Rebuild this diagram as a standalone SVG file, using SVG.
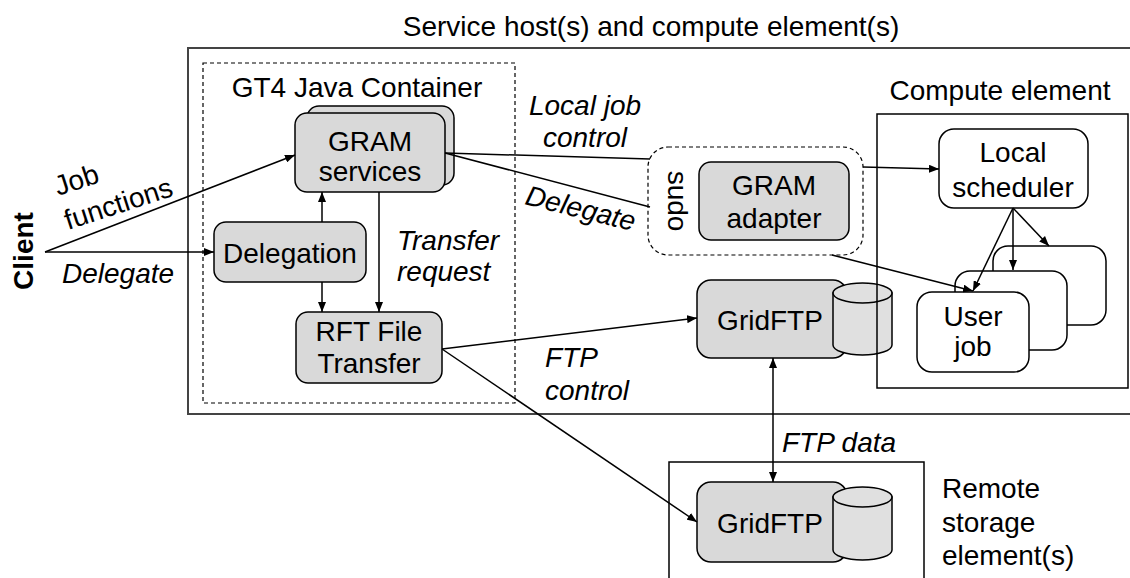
<svg xmlns="http://www.w3.org/2000/svg" width="1130" height="578" viewBox="0 0 1130 578">
<defs>
<marker id="ah" viewBox="0 0 10 8" refX="10" refY="4" markerWidth="10" markerHeight="8" markerUnits="userSpaceOnUse" orient="auto-start-reverse"><path d="M0,0 L10,4 L0,8 Z" fill="#000"/></marker>
<style>
text{font-family:"Liberation Sans",Arial,sans-serif;font-size:28px;fill:#000}
.c{text-anchor:middle}
.i{font-style:italic}
.box{fill:#d9d9d9;stroke:#000;stroke-width:1.5}
.wbox{fill:#fff;stroke:#000;stroke-width:1.5}
.dash{fill:none;stroke:#000;stroke-width:1.2;stroke-dasharray:4,3}
.cyl{fill:#e0e0e0;stroke:#000;stroke-width:1.5}
.ln{fill:none;stroke:#000;stroke-width:1.5}
.arr{fill:none;stroke:#000;stroke-width:1.5;marker-end:url(#ah)}
</style>
</defs>
<rect width="1130" height="578" fill="#fff"/>

<g id="service-host">
<rect x="188" y="48" width="960" height="366" fill="none" stroke="#444" stroke-width="2"/>
<text class="c" x="651" y="36">Service host(s) and compute element(s)</text>
</g>

<g id="gt4-container">
<rect class="dash" x="203" y="63" width="312" height="340"/>
<text class="c" x="357" y="97">GT4 Java Container</text>
</g>

<g id="client">
<text transform="translate(33,251) rotate(-90)" class="c" font-weight="bold">Client</text>
</g>

<g id="gram-services">
<rect class="box" x="307" y="106" width="147" height="79" rx="12"/>
<rect class="box" x="295" y="113" width="150" height="79" rx="12"/>
<text class="c" x="370" y="151">GRAM</text>
<text class="c" x="370" y="181">services</text>
</g>

<g id="delegation">
<rect class="box" x="214" y="222" width="152" height="60" rx="12"/>
<text class="c" x="290" y="263">Delegation</text>
</g>

<g id="rft">
<rect class="box" x="296" y="312" width="146" height="71" rx="12"/>
<text class="c" x="369" y="341">RFT File</text>
<text class="c" x="369" y="373">Transfer</text>
</g>

<g id="sudo">
<rect class="dash" x="648" y="147" width="215" height="108" rx="20"/>
<text transform="translate(668,201) rotate(90)" class="c">sudo</text>
</g>

<g id="gram-adapter">
<rect class="box" x="699" y="162" width="150" height="78" rx="12"/>
<text class="c" x="774" y="195">GRAM</text>
<text class="c" x="774" y="228">adapter</text>
</g>

<g id="gridftp-host">
<rect class="box" x="697" y="280" width="150" height="78" rx="14"/>
<text class="c" x="770" y="330">GridFTP</text>
<path class="cyl" d="M833,293 L833,345 A29.5,10 0 0 0 892,345 L892,293 Z"/>
<ellipse class="cyl" cx="862.5" cy="293" rx="29.5" ry="10"/>
</g>

<g id="compute-element">
<rect x="877" y="114" width="251" height="274" fill="none" stroke="#000" stroke-width="1.5"/>
<text class="c" x="1000" y="100">Compute element</text>
</g>

<g id="local-scheduler">
<rect class="wbox" x="939" y="129" width="149" height="79" rx="15"/>
<text class="c" x="1013" y="162">Local</text>
<text class="c" x="1013" y="197">scheduler</text>
</g>

<g id="user-job">
<rect class="wbox" x="993" y="246" width="113" height="79" rx="15"/>
<rect class="wbox" x="955" y="271" width="112" height="79" rx="15"/>
<rect class="wbox" x="917" y="292" width="112" height="80" rx="15"/>
<text class="c" x="973" y="326">User</text>
<text class="c" x="973" y="356">job</text>
</g>

<g id="remote-storage">
<rect x="669" y="462" width="255" height="140" fill="none" stroke="#000" stroke-width="1.5"/>
<text x="942" y="498">Remote</text>
<text x="942" y="532">storage</text>
<text x="942" y="565">element(s)</text>
</g>

<g id="gridftp-remote">
<rect class="box" x="697" y="482" width="150" height="80" rx="14"/>
<text class="c" x="770" y="533">GridFTP</text>
<path class="cyl" d="M833,497 L833,550 A29.5,10 0 0 0 892,550 L892,497 Z"/>
<ellipse class="cyl" cx="862.5" cy="497" rx="29.5" ry="10"/>
</g>

<g id="connectors">
<path class="arr" d="M45,252 L295,155"/>
<path class="arr" d="M45,252 L214,252"/>
<path class="arr" d="M322,222 L322,192"/>
<path class="arr" d="M322,282 L322,312"/>
<path class="arr" d="M379,192 L379,312"/>
<path class="ln" d="M445,153 L650,159"/>
<path class="ln" d="M445,153 L650,207"/>
<path class="arr" d="M863,167 L939,169"/>
<path class="arr" d="M832,255 L973,291"/>
<path class="arr" d="M1013,208 L973,291"/>
<path class="arr" d="M1013,208 L1013,270"/>
<path class="arr" d="M1013,208 L1049,246"/>
<path class="arr" d="M442,349 L697,318"/>
<path class="arr" d="M442,349 L697,522"/>
<path class="arr" d="M773,358 L773,482" marker-start="url(#ah)"/>
</g>

<g id="labels">
<text transform="translate(58,196) rotate(-18)">Job</text>
<text transform="translate(68,230) rotate(-18)">functions</text>
<text class="i" x="62" y="283">Delegate</text>
<text class="c i" x="585" y="115">Local job</text>
<text class="c i" x="585" y="147">control</text>
<text class="i" transform="translate(524,204) rotate(14)">Delegate</text>
<text class="i" x="397" y="250">Transfer</text>
<text class="i" x="397" y="281">request</text>
<text class="i" x="545" y="367">FTP</text>
<text class="i" x="545" y="400">control</text>
<text class="i" x="782" y="452">FTP data</text>
</g>
</svg>
